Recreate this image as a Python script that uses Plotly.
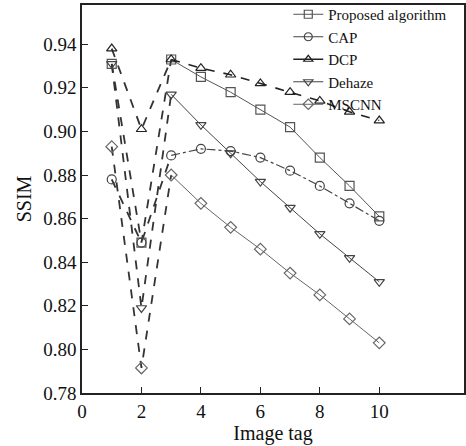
import plotly.graph_objects as go

image_tag = [1, 2, 3, 4, 5, 6, 7, 8, 9, 10]
proposed = [0.931, 0.849, 0.933, 0.925, 0.918, 0.910, 0.902, 0.888, 0.875, 0.861]
cap = [0.878, 0.849, 0.889, 0.892, 0.891, 0.888, 0.882, 0.875, 0.867, 0.859]
dcp = [0.938, 0.901, 0.933, 0.929, 0.926, 0.922, 0.918, 0.914, 0.909, 0.905]
dehaze = [0.931, 0.819, 0.917, 0.903, 0.890, 0.877, 0.865, 0.853, 0.842, 0.831]
mscnn = [0.893, 0.7915, 0.880, 0.867, 0.856, 0.846, 0.835, 0.825, 0.814, 0.803]

series = [
    ("Proposed algorithm", proposed, "square-open", "#555555", "solid", 1.0),
    ("CAP", cap, "circle-open", "#444444", "dashdot", 1.2),
    ("DCP", dcp, "triangle-up-open", "#222222", "dash", 1.6),
    ("Dehaze", dehaze, "triangle-down-open", "#444444", "solid", 1.0),
    ("MSCNN", mscnn, "diamond-open", "#666666", "solid", 1.0),
]

font_family = "Liberation Serif, Times New Roman, serif"
fig = go.Figure()
for name, ys, sym, col, dash, w in series:
    # first segment (images 1-3) drawn with heavy dashes
    fig.add_trace(go.Scatter(
        x=image_tag[:3], y=ys[:3], mode="lines",
        line=dict(color="#333333", width=1.8, dash="dash"),
        showlegend=False, hoverinfo="skip"))
for name, ys, sym, col, dash, w in series:
    fig.add_trace(go.Scatter(
        x=image_tag[2:], y=ys[2:], mode="lines", name=name,
        line=dict(color=col, width=w, dash=dash), showlegend=False))
for name, ys, sym, col, dash, w in series:
    fig.add_trace(go.Scatter(
        x=image_tag, y=ys, mode="markers", name=name,
        marker=dict(symbol=sym, size=9, color=col, line=dict(width=1.2, color=col)),
        showlegend=False))
for name, ys, sym, col, dash, w in series:
    # legend entries
    fig.add_trace(go.Scatter(
        x=[None], y=[None], mode="lines+markers", name=name,
        line=dict(color=col, width=w),
        marker=dict(symbol=sym, size=8, color=col, line=dict(width=1.2, color=col))))

fig.update_layout(
    width=466, height=446,
    margin=dict(l=82, r=2, t=5, b=53, autoexpand=False),
    paper_bgcolor="white", plot_bgcolor="white",
    font=dict(family=font_family, color="#111111", size=19),
    legend=dict(x=0.54, y=1.018, xanchor="left", yanchor="top",
                bgcolor="rgba(0,0,0,0)", font=dict(size=15, family=font_family),
                tracegroupgap=0, itemwidth=30),
    xaxis=dict(range=[0, 12.85], tickvals=[0, 2, 4, 6, 8, 10],
               ticks="inside", ticklen=6, tickcolor="#222222",
               showline=True, linecolor="#222222", linewidth=1.5, mirror=True,
               showgrid=False, zeroline=False,
               title=dict(text="Image tag", standoff=2, font=dict(size=20))),
    yaxis=dict(range=[0.78, 0.958], tickvals=[0.78, 0.80, 0.82, 0.84, 0.86, 0.88, 0.90, 0.92, 0.94],
               tickformat=".2f",
               ticks="inside", ticklen=6, tickcolor="#222222",
               showline=True, linecolor="#222222", linewidth=1.5, mirror=True,
               showgrid=False, zeroline=False,
               title=dict(text="SSIM", standoff=6, font=dict(size=20))),
)

fig.write_html("out.html")
